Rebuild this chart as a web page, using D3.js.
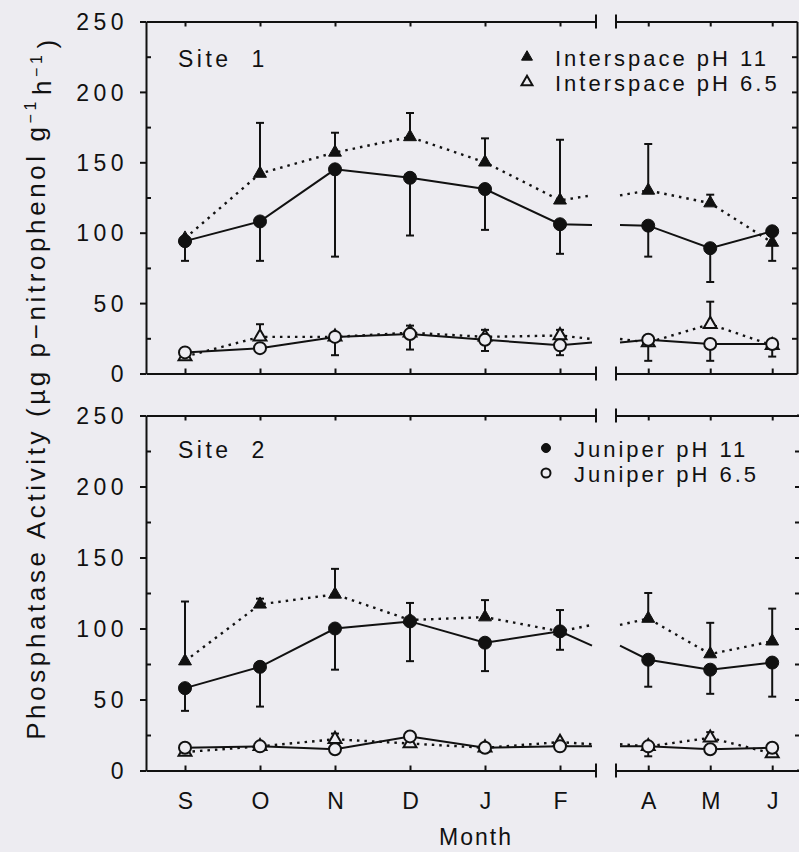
<!DOCTYPE html>
<html>
<head>
<meta charset="utf-8">
<style>
  body { margin: 0; background: #edecf1; }
  svg { display: block; }
  text { font-family: 'Liberation Sans', Arial, sans-serif; fill: #111; }
  .tick text { font-size: 23px; letter-spacing: 4.5px; }
  .domain, .tick line { stroke: #111; stroke-width: 2; }
</style>
</head>
<body>
<svg width="799" height="852"></svg>
<script src="https://d3js.org/d3.v7.min.js"></script>
<script>
// months sampled (Sep..Feb, then Apr..Jun after the axis break)
const months = ["S", "O", "N", "D", "J", "F", "A", "M", "J"];
const monthIdx = [0, 1, 2, 3, 4, 5, 6, 7, 8];
const yTicks = [0, 50, 100, 150, 200, 250];
const yMinor = [25, 75, 125, 175, 225];

// Site 1 -- means and end of the (one-sided) error bar
const s1Int11 = [96, 142, 157, 168, 150, 123, 130, 121, 93];
const s1Int11Err = [null, 178, 171, 185, 167, 166, 163, 127, 80];
const s1Jun11 = [94, 108, 145, 139, 131, 106, 105, 89, 101];
const s1Jun11Err = [80, 80, 83, 98, 102, 85, 83, 65, null];
const s1Int65 = [12, 26, 26, 29, 26, 27, 22, 35, 20];
const s1Int65Err = [null, 35, 13, 34, 31, 31, 9, 51, 12];
const s1Jun65 = [15, 18, 26, 28, 24, 20, 24, 21, 21];
const s1Jun65Err = [null, null, null, 17, 16, 13, null, 9, null];

// Site 2
const s2Int11 = [77, 117, 124, 106, 108, 98, 107, 82, 91];
const s2Int11Err = [119, 121, 142, 118, 120, 113, 125, 104, 114];
const s2Jun11 = [58, 73, 100, 105, 90, 98, 78, 71, 76];
const s2Jun11Err = [42, 45, 71, 77, 70, 85, 59, 54, 52];
const s2Int65 = [13, 17, 22, 19, 16, 20, 17, 23, 12];
const s2Int65Err = [null, null, 26, null, null, null, 10, 27, null];
const s2Jun65 = [16, 17, 15, 24, 16, 17, 17, 15, 16];
const s2Jun65Err = [null, null, null, null, null, null, null, null, null];

const svg = d3.select("svg");
const ink = "#111";
const bg = "#edecf1";

// broken x axis: two linear pieces
const breakL = 596, breakR = 616;
const xL = d3.scaleLinear().domain([-0.52, 5.48]).range([146, breakL]);
const xR = d3.scaleLinear().domain([5.48, 8.4]).range([breakR, 797]);
const xPos = i => i <= 5 ? xL(i) : xR(i);

const panels = [
  { label: "Site 1", y: d3.scaleLinear().domain([0, 250]).range([373.5, 21.5]), right: 797,
    series: [
      { v: s1Int11, e: s1Int11Err, sym: "tri", fill: true, dash: true },
      { v: s1Int65, e: s1Int65Err, sym: "tri", fill: false, dash: true },
      { v: s1Jun11, e: s1Jun11Err, sym: "circ", fill: true, dash: false },
      { v: s1Jun65, e: s1Jun65Err, sym: "circ", fill: false, dash: false }
    ],
    legend: [["tri", true, "Interspace pH 11"], ["tri", false, "Interspace pH 6.5"]],
    legendX: 527, legendY: 57, labelY: 67, showX: false },
  { label: "Site 2", y: d3.scaleLinear().domain([0, 250]).range([770.5, 415.5]), right: 800,
    series: [
      { v: s2Int11, e: s2Int11Err, sym: "tri", fill: true, dash: true },
      { v: s2Int65, e: s2Int65Err, sym: "tri", fill: false, dash: true },
      { v: s2Jun11, e: s2Jun11Err, sym: "circ", fill: true, dash: false },
      { v: s2Jun65, e: s2Jun65Err, sym: "circ", fill: false, dash: false }
    ],
    legend: [["circ", true, "Juniper pH 11"], ["circ", false, "Juniper pH 6.5"]],
    legendX: 546, legendY: 448, labelY: 458, showX: true }
];

const triPath = d3.symbol().type(d3.symbolTriangle).size(72);
const triSmall = d3.symbol().type(d3.symbolTriangle).size(52);

function marker(g, type, fill, x, y, small) {
  if (type === "tri") {
    g.append("path")
      .attr("d", small ? triSmall() : triPath())
      .attr("transform", `translate(${x},${y})`)
      .style("fill", fill ? ink : bg)
      .style("stroke", ink)
      .style("stroke-width", fill ? 1 : 2);
  } else {
    g.append("circle")
      .attr("cx", x).attr("cy", y)
      .attr("r", small ? 4.5 : (fill ? 6.5 : 6))
      .style("fill", fill ? ink : bg)
      .style("stroke", ink)
      .style("stroke-width", fill ? 1 : 2);
  }
}

panels.forEach(p => {
  let y = p.y;
  let g = svg.append("g");
  let y0 = y(0), yTop = y(250);

  // left axis: major ticks out with labels, minor ticks in
  g.append("g")
    .attr("transform", `translate(${xL.range()[0]},0)`)
    .call(d3.axisLeft(y).tickValues(yTicks).tickSizeInner(6).tickSizeOuter(0).tickPadding(12))
    .call(a => a.selectAll("text").attr("dy", "0.36em"));
  g.append("g")
    .attr("transform", `translate(${xL.range()[0]},0)`)
    .call(d3.axisLeft(y).tickValues(yMinor).tickSize(-5).tickFormat(""))
    .call(a => a.select(".domain").remove());

  // right spine, ticks pointing in
  g.append("g")
    .attr("transform", `translate(${p.right},0)`)
    .call(d3.axisRight(y).tickValues(yTicks.concat(yMinor)).tickSizeInner(-5).tickSizeOuter(0).tickFormat(""));

  // top and bottom axes, each in two pieces
  [[xL, [0, 1, 2, 3, 4, 5]], [xR, [6, 7, 8]]].forEach(([sc, idx], k) => {
    let bottom = d3.axisBottom(sc).tickValues(idx).tickSizeInner(-5).tickSizeOuter(0).tickPadding(22)
      .tickFormat(i => p.showX ? months[i] : "");
    let top = d3.axisTop(sc).tickValues(idx).tickSizeInner(-5).tickSizeOuter(0).tickFormat("");
    g.append("g").attr("transform", `translate(0,${y0})`).call(bottom)
      .call(a => a.selectAll("text").style("letter-spacing", "0px"));
    g.append("g").attr("transform", `translate(0,${yTop})`).call(top);
    if (k === 1) {
      g.append("line").attr("x1", sc.range()[1]).attr("x2", p.right)
        .attr("y1", y0).attr("y2", y0).style("stroke", ink).style("stroke-width", 2);
      g.append("line").attr("x1", sc.range()[1]).attr("x2", p.right)
        .attr("y1", yTop).attr("y2", yTop).style("stroke", ink).style("stroke-width", 2);
    }
  });

  // break marks
  [breakL, breakR].forEach(bx => {
    [y0, yTop].forEach(by => {
      g.append("line").attr("x1", bx).attr("x2", bx).attr("y1", by - 7).attr("y2", by + 7)
        .style("stroke", ink).style("stroke-width", 2);
    });
  });

  // lines, broken at the axis break
  let line = d3.line().x(d => d[0]).y(d => y(d[1]));
  p.series.forEach(s => {
    let mid = (s.v[5] + s.v[6]) / 2;
    let left = s.v.slice(0, 6).map((v, i) => [xPos(i), v]).concat([[breakL - 4, mid]]);
    let right = [[breakR + 4, mid]].concat(s.v.slice(6).map((v, i) => [xPos(i + 6), v]));
    [left, right].forEach(pts => {
      g.append("path")
        .attr("d", line(pts))
        .style("fill", "none")
        .style("stroke", ink)
        .style("stroke-width", s.dash ? 2.4 : 2)
        .style("stroke-dasharray", s.dash ? "2.5,5" : null);
    });
  });

  // error bars
  p.series.forEach(s => {
    s.v.forEach((v, i) => {
      let e = s.e[i];
      if (e == null) return;
      let x = xPos(i);
      g.append("line").attr("x1", x).attr("x2", x).attr("y1", y(v)).attr("y2", y(e))
        .style("stroke", ink).style("stroke-width", 2);
      g.append("line").attr("x1", x - 4).attr("x2", x + 4).attr("y1", y(e)).attr("y2", y(e))
        .style("stroke", ink).style("stroke-width", 2);
    });
  });

  // markers: open ones first, filled on top of lines
  p.series.slice().sort((a, b) => (a.fill === b.fill ? 0 : a.fill ? 1 : -1)).forEach(s => {
    s.v.forEach((v, i) => marker(g, s.sym, s.fill, xPos(i), y(v), false));
  });

  // site label
  g.append("text").attr("x", 178).attr("y", p.labelY)
    .style("font-size", "23px").style("letter-spacing", "3.5px")
    .text(p.label.replace(" ", "\u00a0 "));

  // legend
  p.legend.forEach((L, k) => {
    let ly = p.legendY + k * 25;
    marker(g, L[0], L[1], p.legendX, ly, true);
    g.append("text").attr("x", p.legendX + 28).attr("y", ly + 8.5)
      .style("font-size", "22px").style("letter-spacing", "3px")
      .text(L[2]);
  });
});

// axis titles
svg.append("text")
  .attr("x", 476).attr("y", 845)
  .attr("text-anchor", "middle")
  .style("font-size", "23px").style("letter-spacing", "2px")
  .text("Month");

let yt = svg.append("text")
  .attr("transform", "translate(45,388) rotate(-90)")
  .attr("text-anchor", "middle")
  .style("font-size", "26px").style("letter-spacing", "3.6px");
yt.append("tspan").text("Phosphatase Activity (\u00b5g p\u2212nitrophenol g");
yt.append("tspan").attr("dy", "-0.55em").style("font-size", "16px").text("\u22121");
yt.append("tspan").attr("dy", "0.55em").attr("dx", "3").text("h");
yt.append("tspan").attr("dy", "-0.55em").style("font-size", "16px").text("\u22121");
yt.append("tspan").attr("dy", "0.55em").attr("dx", "3").text(")");
</script>
</body>
</html>
